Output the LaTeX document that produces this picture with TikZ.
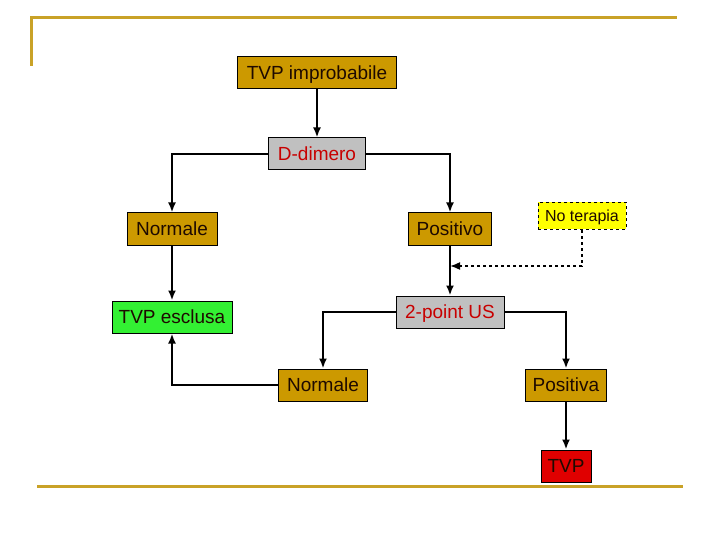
\documentclass[tikz,border=0pt]{standalone}
\usepackage{fontspec}
\setmainfont{Liberation Sans}
\usepackage{tikz}
\usetikzlibrary{arrows.meta}
\definecolor{mygold}{RGB}{204,153,0}
\definecolor{myline}{RGB}{201,162,39}
\definecolor{mygray}{RGB}{192,192,192}
\definecolor{myred}{RGB}{200,0,0}
\definecolor{mygreen}{RGB}{51,240,51}
\definecolor{myyellow}{RGB}{255,255,0}
\definecolor{mytvp}{RGB}{224,0,0}
\definecolor{mytext}{RGB}{30,10,0}

\begin{document}
\begin{tikzpicture}[x=1pt, y=-1pt,
  box/.style={rectangle, draw, line width=1pt, minimum height=32pt, inner sep=2pt, text height=14pt, text depth=1pt, text=mytext, font=\fontsize{19}{22}\selectfont},
  gold/.style={box, fill=mygold},
  test/.style={box, fill=mygray, text=myred},
  link/.style={line width=2pt, -{Latex[length=10pt,width=8pt]}}]

\useasboundingbox (0,0) rectangle (720,540);

% cornice della diapositiva
\draw[myline, line width=3pt] (30,18) -- (677,18);
\draw[myline, line width=3pt] (31,18) -- (31,66);
\draw[myline, line width=3pt] (37,486) -- (683,486);

\node[gold, minimum width=159pt] (improb) at (317,73) {TVP improbabile};
\node[test, minimum width=97pt] (ddim) at (317,154) {D-dimero};
\node[gold, minimum width=90pt] (norm1) at (172,229) {Normale};
\node[gold, minimum width=83pt] (posit) at (450,229) {Positivo};
\node[box, fill=myyellow, dashed, minimum width=88pt, minimum height=27pt, text height=12pt, text depth=0.5pt, font=\fontsize{16}{18}\selectfont] (noter) at (582,216) {No terapia};
\node[box, fill=mygreen, minimum width=120pt] (escl) at (172,317) {TVP esclusa};
\node[test, minimum width=108pt] (us) at (450,312) {2-point US};
\node[gold, minimum width=89pt] (norm2) at (323,385) {Normale};
\node[gold, minimum width=81pt] (posva) at (566,385) {Positiva};
\node[box, fill=mytvp, minimum width=50pt] (tvp) at (566,466) {TVP};

\coordinate (join) at (450,266);

\draw[link] (improb) -- (ddim);
\draw[link] (ddim.west) -| (norm1.north);
\draw[link] (ddim.east) -| (posit.north);
\draw[link] (norm1) -- (escl);
\draw[link] (posit) -- (us);
\draw[link, dashed, line width=1.6pt] (noter.south) |- (join);
\draw[link] (us.west) -| (norm2.north);
\draw[link] (us.east) -| (posva.north);
\draw[link] (norm2.west) -| (escl.south);
\draw[link] (posva) -- (tvp);
\end{tikzpicture}
\end{document}
